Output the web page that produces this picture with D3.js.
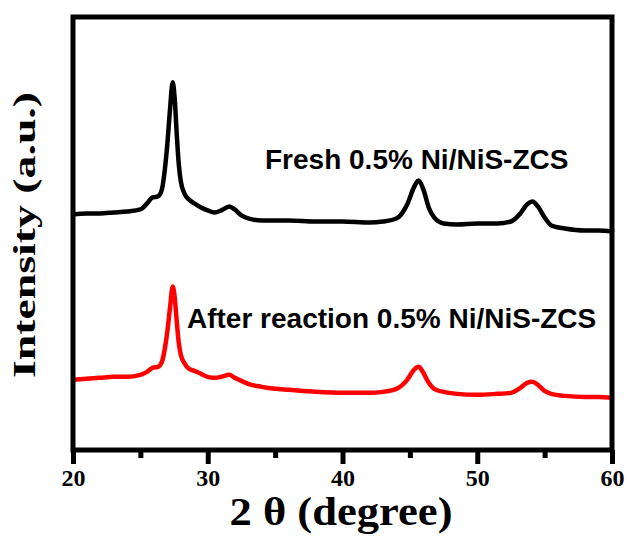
<!DOCTYPE html>
<html>
<head>
<meta charset="utf-8">
<script src="https://cdn.jsdelivr.net/npm/d3@7"></script>
<style>
  body { margin: 0; background: #fff; }
  svg { display: block; }
</style>
</head>
<body>
<svg id="chart" width="627" height="538"></svg>
<script>
// 2 theta grid shared by both patterns
var angles = [20,21,22,23,24,25,25.5,25.9,26.3,26.6,26.8,27.0,27.2,27.4,27.55,27.7,27.85,28.0,28.3,28.6,29.0,29.5,30.0,30.5,31.0,31.6,32.0,32.5,33.0,34,35,36,38,40,42,43,44,44.8,45.3,45.65,46.0,46.4,46.8,47.5,48.5,50,51.5,52.5,53.2,53.7,54.1,54.5,55.0,55.5,56.5,58,59,60];

var freshIntensity = [235,236,236,237,238,240,246,252,253,260,278,305,340,367,350,315,285,268,255,250,246,242,239,237,239,243,240,234,231,229,229,229,228,228,227,228,231,245,262,269,260,242,232,226,225,226,226,228,236,245,248,243,232,224,221,219,219,218];

var afterIntensity = [70,71,72,73,73,75,78,82,83,88,100,118,142,163,152,128,107,95,86,81,79,76,73,72,73,75,72,69,66,63,61,60,58,57,57,58,61,70,80,83,77,67,61,58,56,55,56,57,62,67,68,65,59,56,54,53,53,52];

var xTicks = [20, 30, 40, 50, 60];
var xMinorTicks = [25, 35, 45, 55];

var seriesNames = ["Fresh 0.5% Ni/NiS-ZCS", "After reaction 0.5% Ni/NiS-ZCS"];
var seriesColors = ["#000000", "#ff0000"];

var svg = d3.select("#chart");
var margin = {left: 73, right: 15, top: 17, bottom: 88};
var W = 627, H = 538;

var x = d3.scaleLinear().domain([20, 60]).range([margin.left, W - margin.right]);
var y = d3.scaleLinear().domain([0, 432]).range([H - margin.bottom, margin.top]);

var line = d3.line()
    .x(function (d) { return x(d[0]) })
    .y(function (d) { return y(d[1]) })
    .curve(d3.curveMonotoneX);

var series = [freshIntensity, afterIntensity].map(function (vals) {
  return angles.map(function (a, i) { return [a, vals[i]] });
});

svg.selectAll(".pattern")
  .data(series)
  .enter().append("path")
  .attr("class", "pattern")
  .attr("d", line)
  .attr("fill", "none")
  .attr("stroke", function (d, i) { return seriesColors[i] })
  .attr("stroke-width", 4.5)
  .attr("stroke-linejoin", "round")
  .attr("stroke-linecap", "round");

// frame
svg.append("rect")
  .attr("x", x(20)).attr("y", y(432))
  .attr("width", x(60) - x(20)).attr("height", y(0) - y(432))
  .attr("fill", "none").attr("stroke", "#000").attr("stroke-width", 5);

// bottom axis
var xAxis = d3.axisBottom(x).tickValues(xTicks).tickSize(14).tickPadding(5)
  .tickFormat(d3.format("d"));
var gx = svg.append("g").attr("transform", "translate(0," + y(0) + ")").call(xAxis);
gx.select(".domain").remove();
gx.selectAll(".tick line").attr("stroke", "#000").attr("stroke-width", 5);
gx.selectAll(".tick text")
  .attr("font-family", "'Liberation Serif', 'Times New Roman', serif")
  .attr("font-weight", "bold").attr("font-size", 24).attr("fill", "#000");

var xMinor = d3.axisBottom(x).tickValues(xMinorTicks).tickSize(8).tickFormat("");
var gm = svg.append("g").attr("transform", "translate(0," + y(0) + ")").call(xMinor);
gm.select(".domain").remove();
gm.selectAll(".tick line").attr("stroke", "#000").attr("stroke-width", 5);

// axis titles
svg.append("text")
  .attr("x", 341).attr("y", 525)
  .attr("text-anchor", "middle")
  .attr("font-family", "'Liberation Serif', 'Times New Roman', serif")
  .attr("font-weight", "bold").attr("font-size", 40)
  .attr("textLength", 223).attr("lengthAdjust", "spacingAndGlyphs")
  .text("2 θ (degree)");

svg.append("text")
  .attr("transform", "translate(35,235) rotate(-90)")
  .attr("text-anchor", "middle")
  .attr("font-family", "'Liberation Serif', 'Times New Roman', serif")
  .attr("font-weight", "bold").attr("font-size", 31)
  .attr("textLength", 286).attr("lengthAdjust", "spacingAndGlyphs")
  .text("Intensity (a.u.)");

// labels
var labelPos = [[265, 169], [187, 328]];
svg.selectAll(".label")
  .data(seriesNames)
  .enter().append("text")
  .attr("class", "label")
  .attr("x", function (d, i) { return labelPos[i][0] })
  .attr("y", function (d, i) { return labelPos[i][1] })
  .attr("font-family", "'Liberation Sans', Arial, sans-serif")
  .attr("font-weight", "bold").attr("font-size", 28)
  .attr("fill", "#000")
  .text(function (d) { return d });
</script>
</body>
</html>
